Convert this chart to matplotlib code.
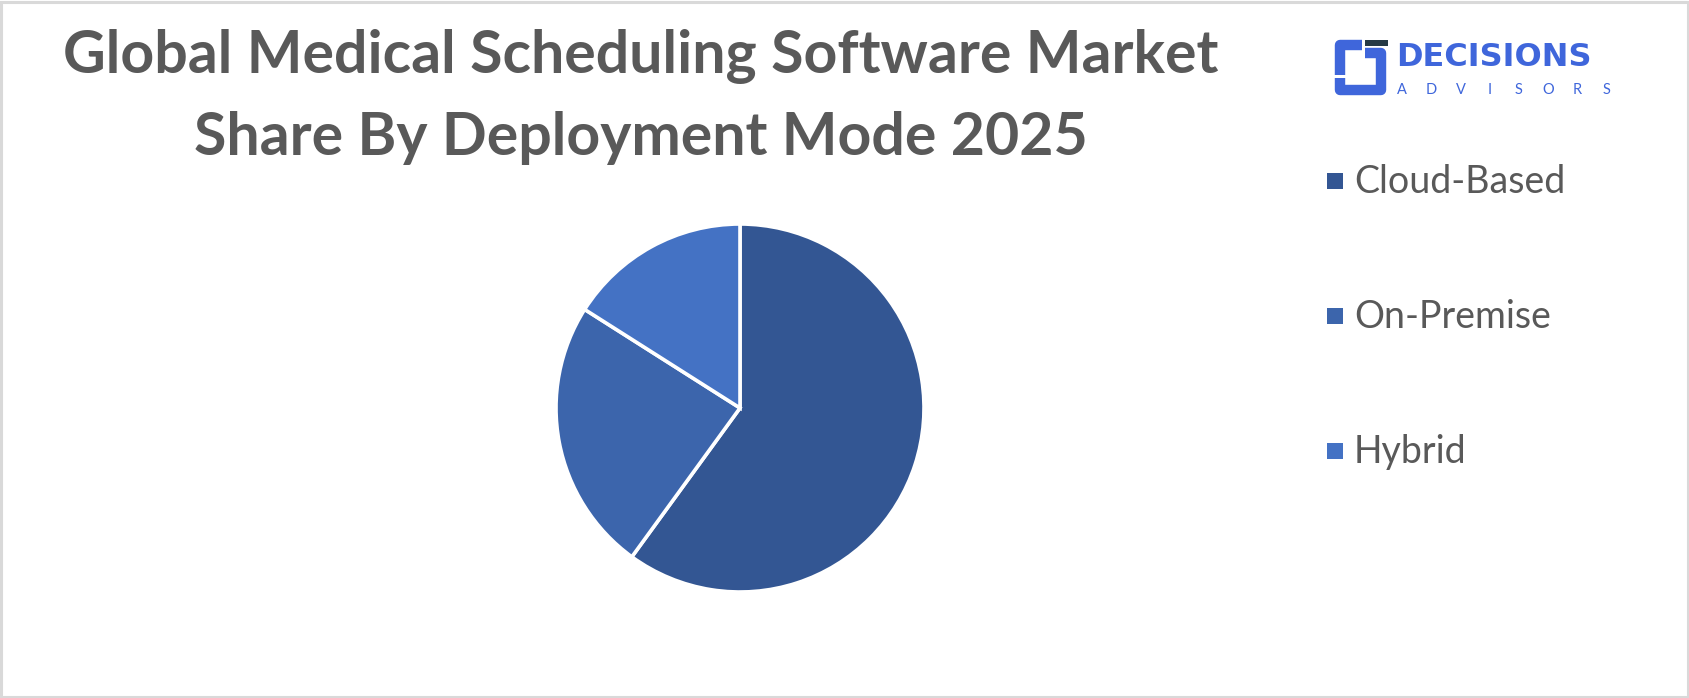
import matplotlib.pyplot as plt
from matplotlib.patches import Rectangle

# data
categories = ["Cloud-Based", "On-Premise", "Hybrid"]
shares = [60, 24, 16]
colors = ["#335693", "#3C65AC", "#4472C4"]

title = "Global Medical Scheduling Software Market\nShare By Deployment Mode 2025"

W, H = 1690, 698
fig = plt.figure(figsize=(W / 100, H / 100), dpi=100)
fig.patch.set_facecolor("white")


def fx(x):
    return x / W


def fy(y):
    # y measured from top in pixels
    return 1 - y / H


# light grey frame round the picture
fig.patches.append(Rectangle((fx(1.5), fy(H - 1.5)), fx(W - 3), 1 - 3 / H,
                             transform=fig.transFigure, fill=False,
                             edgecolor="#D9D9D9", linewidth=2.2))

# title
fig.text(fx(641), fy(97), title, ha="center", va="center",
         fontsize=42.5, fontweight="bold", color="#595959",
         family="Lato", linespacing=1.62)

# pie
cx, cy, r = 740, 408, 184
ax = fig.add_axes([fx(cx - r), fy(cy + r), fx(2 * r), 2 * r / H])
wedges, _ = ax.pie(shares, colors=colors, startangle=90, counterclock=False,
                   wedgeprops=dict(edgecolor="white", linewidth=2.6))
ax.set_xlim(-1, 1)
ax.set_ylim(-1, 1)
ax.set_aspect("auto")
ax.axis("off")

# legend
for i, (lab, col) in enumerate(zip(categories, colors)):
    yc = 181 + i * 135
    fig.patches.append(Rectangle((fx(1327), fy(yc + 8)), fx(16), 16 / H,
                                 transform=fig.transFigure, facecolor=col,
                                 edgecolor="none"))
    fig.text(fx(1354), fy(yc + 1), lab, ha="left", va="center",
             fontsize=27, color="#595959", family="Lato")

# logo
blue = "#3F66DB"
lax = fig.add_axes([0, 0, 1, 1], facecolor="none")
lax.set_xlim(0, W)
lax.set_ylim(H, 0)
lax.axis("off")
lw = 7.5
lax.plot([1362, 1340, 1340], [44.5, 44.5, 75], color=blue, lw=lw,
         solid_joinstyle="round", solid_capstyle="butt")
lax.plot([1340, 1340, 1381.5, 1381.5, 1365], [78, 90, 90, 52.5, 52.5],
         color=blue, lw=lw, solid_joinstyle="round", solid_capstyle="butt")
lax.add_patch(Rectangle((1365, 39.5), 23, 6.5, facecolor="#263A45",
                        edgecolor="none"))
lax.text(1396, 58, "DECISIONS", ha="left", va="center", fontsize=23,
         fontweight="bold", color=blue, family="DejaVu Sans")
for i, ch in enumerate("ADVISORS"):
    lax.text(1402 + i * 29.2, 90, ch, ha="center", va="center",
             fontsize=10.5, color=blue, family="Lato")

fig.savefig("out.png", dpi=100, facecolor="white")
